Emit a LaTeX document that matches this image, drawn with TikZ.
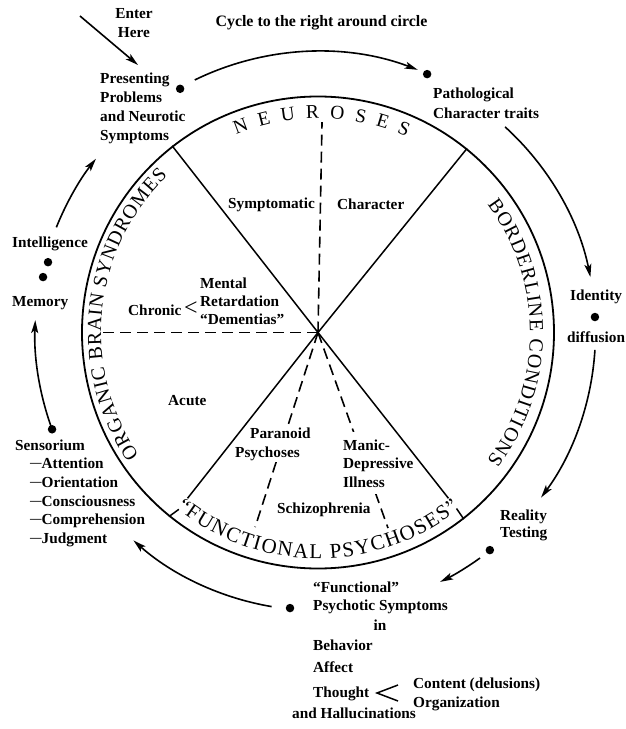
\documentclass[tikz,border=0pt]{standalone}
\usepackage{fontspec}
\setmainfont{Liberation Serif}
\usetikzlibrary{arrows.meta,decorations.text,calc}
\newcommand\lblsize[1]{\fontsize{15.3}{#1}\selectfont\bfseries}
\newcommand\lblfont{\lblsize{19}}
\newcommand\arcfont{\fontsize{20}{20}\selectfont}
\newcommand\neufont{\fontsize{19.5}{19.5}\selectfont}
\newcommand\funcfont{\fontsize{21}{21}\selectfont}
\newcommand\itemdash{{\fontsize{11.5}{11.5}\selectfont\raisebox{2pt}{—}}}
\begin{document}
\begin{tikzpicture}[x=1pt,y=1pt,
  lbl/.style={inner sep=0pt, font=\lblfont, align=left, anchor=base west},
  ctr/.style={inner sep=0pt, font=\lblfont, align=center, anchor=base},
  blank/.style={fill=white},
  dot/.style={circle, fill=black, inner sep=0pt, minimum size=8.5pt},
  cyc/.style={line width=1.6pt, -{Stealth[length=13pt,width=7pt,inset=3pt]}},
  spoke/.style={line width=1.5pt},
  dashln/.style={line width=1.6pt, dash pattern=on 11pt off 6pt},
  arctext/.style={decorate, decoration={text along path, text align={fit to path}}},
]
\useasboundingbox (-318,-396.5) rectangle (308,332.5);
\coordinate (hub) at (0,0);

% dashed subdivisions
\draw[dashln] (hub) -- (88.9:210.5);
\draw[dashln] (hub) -- (180:215);
\draw[dashln] (hub) -- (252.1:204.5);
\draw[dashln] (hub) -- (289.7:207.7);

% labels inside the circle (multi-line nodes are anchored at their last baseline)
\node[lbl] (symp) at (-90,124.5) {Symptomatic};
\node[lbl] (charac) at (19,123.5) {Character};
\node[lbl, font=\lblsize{18}] (mental) at (-118,8.5) {Mental\\Retardation\\“Dementias”};
\node[lbl] (chronic) at (-190,17.5) {Chronic\,{\fontsize{24}{24}\selectfont\mdseries <}};
\node[lbl] (acute) at (-150,-72.5) {Acute};
\node[lbl, blank, inner ysep=2pt] (paranoid) at (-83,-124.5) {\hspace*{15pt}Paranoid\\Psychoses};
\node[lbl, blank, inner ysep=7pt, font=\lblsize{18.5}] (manic) at (25,-154.5) {Manic-\\Depressive\\Illness};
\node[lbl] (schizo) at (-41,-180.5) {Schizophrenia};

% circle and spokes
\node[circle, draw, line width=1.8pt, minimum size=472pt, inner sep=0pt] (ring) at (hub) {};
\draw[spoke] (hub) -- (ring.128.2);
\draw[spoke] (hub) -- (ring.51.8);
\draw[spoke] (hub) -- (231.8:211);
\draw[spoke] (231.8:225) -- (ring.231.8);
\draw[spoke] (hub) -- (308.2:211);
\draw[spoke] (308.2:224) -- (ring.308.2);

% curved category names
\path[arctext, decoration={text={|\neufont|NEUROSES}}]
  (112.4:214.5) arc[start angle=112.4, end angle=65.6, radius=214.5pt];
\path[arctext, decoration={text={|\arcfont|BORDERLINE CONDITIONS}}]
  (37:212) arc[start angle=37, end angle=-37.2, radius=212pt];
\path[arctext, decoration={text={|\arcfont|ORGANIC BRAIN SYNDROMES}}]
  (214.4:217) arc[start angle=214.4, end angle=133.9, radius=217pt];
\path[arctext, decoration={text={|\funcfont|“FUNCTIONAL PSYCHOSES”}}]
  (231.1:226) arc[start angle=231.1, end angle=308.9, radius=226pt];

% dots on the outer cycle
\node[dot] (dpres) at (119.5:280) {};
\node[dot] (dpath) at (67.1:280.5) {};
\node[dot] (dident) at (3.2:277.4) {};
\node[dot] (dreal) at (-51.7:277.3) {};
\node[dot] (dfunc) at (264.2:277) {};
\node[dot] (dsens) at (200:283) {};
\node[dot] (dmem) at (168.6:280.5) {};
\node[dot] (dintel) at (165.4:279) {};

% cycle arrows
\draw[cyc] (116:281) arc[start angle=116, end angle=69.2, radius=281pt];
\draw[cyc] (47.7:278) arc[start angle=47.7, end angle=11.5, radius=278pt];
\draw[cyc] (-3.6:277.5) arc[start angle=-3.6, end angle=-36.5, radius=277.5pt];
\draw[cyc] (-54.3:277.7) arc[start angle=-54.3, end angle=-63.9, radius=277.7pt];
\draw[cyc] (260.4:278) arc[start angle=260.4, end angle=228.4, radius=278pt];
\draw[cyc] (dsens.center) arc[start angle=200, end angle=177.5, radius=283pt];
\draw[cyc] (158.1:282) arc[start angle=158.1, end angle=141.9, radius=281pt];

% outer labels
\node[ctr, font=\fontsize{15.9}{19}\selectfont\bfseries] (cycle) at (3.5,306.5) {Cycle to the right around circle};
\node[ctr, font=\lblsize{18}] (enter) at (-184,295.5) {Enter\\Here};
\coordinate (entertail) at (-238,316.5);
\coordinate (enterhead) at (-180,267.5);
\draw[cyc] (entertail) -- (enterhead);
\node[lbl] (present) at (-218,192.5) {Presenting\\Problems\\and Neurotic\\Symptoms};
\node[lbl, font=\lblsize{20}] (patho) at (115,214.5) {Pathological\\Character traits};
\node[lbl] (intel) at (-306,85.5) {Intelligence};
\node[lbl] (memory) at (-306,26.5) {Memory};
\node[lbl] (ident) at (252,32.5) {Identity};
\node[lbl] (diffu) at (249,-9.5) {diffusion};
\node[lbl, font=\lblsize{17}] (reality) at (182,-204.5) {Reality\\Testing};
\node[lbl, font=\lblsize{18.7}] (senso) at (-303,-211)
  {Sensorium\\\hspace*{15pt}\itemdash Attention\\\hspace*{15pt}\itemdash Orientation\\\hspace*{15pt}\itemdash Consciousness\\\hspace*{15pt}\itemdash Comprehension\\\hspace*{15pt}\itemdash Judgment};
\node[lbl, font=\lblsize{18}] (functional) at (-5,-277.5) {“Functional”\\Psychotic Symptoms};
\node[ctr] (in) at (62,-297.5) {in};
\node[lbl, font=\lblsize{22}] (behav) at (-5,-339.5) {Behavior\\Affect};
\node[lbl] (thought) at (-5,-364.5) {Thought};
\node[lbl] (halluc) at (-26,-385.5) {and Hallucinations};
\node[lbl] (content) at (95,-374.5) {Content (delusions)\\Organization};
\coordinate (brk) at (59,-360.5);
\draw[line width=1.5pt] ($(brk)+(21,8)$) -- (brk) -- ($(brk)+(21,-8)$);
\end{tikzpicture}
\end{document}
